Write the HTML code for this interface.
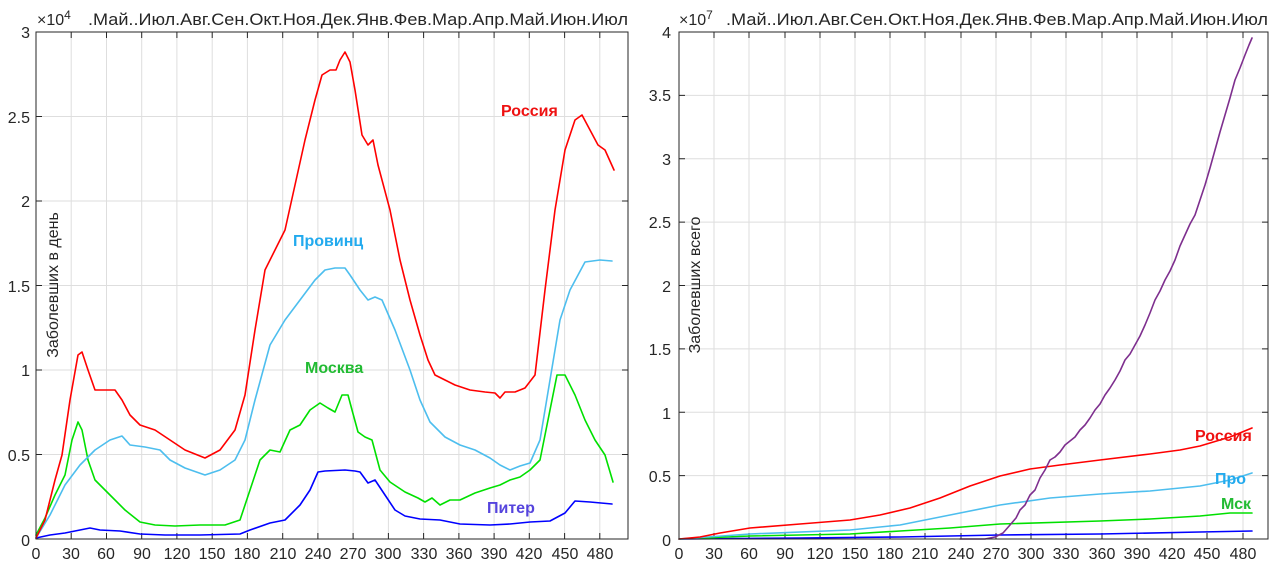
<!DOCTYPE html>
<html><head><meta charset="utf-8"><style>
html,body{margin:0;padding:0;background:#fff;}
svg{display:block;font-family:"Liberation Sans",Arial,sans-serif;}
</style></head><body>
<svg width="1279" height="580" viewBox="0 0 1279 580" xmlns="http://www.w3.org/2000/svg">
<g id="L">
<g stroke="#dedede" stroke-width="1">
<line x1="71.2" y1="32" x2="71.2" y2="539"/><line x1="106.5" y1="32" x2="106.5" y2="539"/><line x1="141.7" y1="32" x2="141.7" y2="539"/><line x1="176.9" y1="32" x2="176.9" y2="539"/><line x1="212.2" y1="32" x2="212.2" y2="539"/><line x1="247.4" y1="32" x2="247.4" y2="539"/><line x1="282.7" y1="32" x2="282.7" y2="539"/><line x1="317.9" y1="32" x2="317.9" y2="539"/><line x1="353.1" y1="32" x2="353.1" y2="539"/><line x1="388.4" y1="32" x2="388.4" y2="539"/><line x1="423.6" y1="32" x2="423.6" y2="539"/><line x1="458.9" y1="32" x2="458.9" y2="539"/><line x1="494.1" y1="32" x2="494.1" y2="539"/><line x1="529.3" y1="32" x2="529.3" y2="539"/><line x1="564.6" y1="32" x2="564.6" y2="539"/><line x1="599.8" y1="32" x2="599.8" y2="539"/>
<line x1="36" y1="454.5" x2="628" y2="454.5"/><line x1="36" y1="370" x2="628" y2="370"/><line x1="36" y1="285.5" x2="628" y2="285.5"/><line x1="36" y1="201" x2="628" y2="201"/><line x1="36" y1="116.5" x2="628" y2="116.5"/>
</g>
<g stroke="#262626" stroke-width="1">
<path d="M71.2 539v-6M106.5 539v-6M141.7 539v-6M176.9 539v-6M212.2 539v-6M247.4 539v-6M282.7 539v-6M317.9 539v-6M353.1 539v-6M388.4 539v-6M423.6 539v-6M458.9 539v-6M494.1 539v-6M529.3 539v-6M564.6 539v-6M599.8 539v-6"/>
<path d="M71.2 32v6M106.5 32v6M141.7 32v6M176.9 32v6M212.2 32v6M247.4 32v6M282.7 32v6M317.9 32v6M353.1 32v6M388.4 32v6M423.6 32v6M458.9 32v6M494.1 32v6M529.3 32v6M564.6 32v6M599.8 32v6"/>
<path d="M36 454.5h6M36 370h6M36 285.5h6M36 201h6M36 116.5h6M628 454.5h-6M628 370h-6M628 285.5h-6M628 201h-6M628 116.5h-6"/>
</g>
<g fill="none" stroke-width="1.6" stroke-linejoin="round" stroke-linecap="round">
<polyline stroke="#0000ff" points="36,538 50,535 65,533 80,530 90,528 100,530 120,531 140,534 165,535 200,535 240,534 250,530 270,523 285,520 300,505 310,490 318,472 325,471 345,470 355,471 360,472 368,483 375,480 385,495 395,510 405,516 420,519 440,520 460,524 490,525 510,524 530,522 550,521 565,513 575,501 590,502 612,504"/>
<polyline stroke="#00e000" points="36,535 45,518 55,495 65,475 72,440 78,422 82,430 88,460 95,480 110,495 125,510 140,522 155,525 175,526 200,525 225,525 240,520 250,490 260,460 270,450 280,452 290,430 300,425 310,410 320,403 328,408 335,412 342,395 348,395 352,410 358,432 365,437 372,440 380,470 390,482 405,492 418,498 425,502 432,498 440,505 450,500 460,500 475,493 490,488 500,485 510,480 520,477 530,470 540,460 550,410 557,375 565,375 575,395 585,420 595,440 605,455 613,482"/>
<polyline stroke="#4dbeee" points="36,538 50,515 65,485 80,465 95,450 110,440 122,436 130,445 145,447 160,450 170,460 185,468 205,475 220,470 235,460 245,440 255,400 270,345 285,320 300,300 315,280 325,270 335,268 345,268 350,275 360,290 368,300 375,297 382,300 395,330 410,370 420,400 430,422 445,437 460,445 475,450 490,458 500,465 510,470 520,466 530,463 540,440 550,380 560,320 570,290 585,262 600,260 612,261"/>
<polyline stroke="#ff0000" points="36,538 45,520 55,480 62,455 70,400 78,355 82,352 88,370 95,390 105,390 115,390 122,400 130,415 140,425 155,430 170,440 185,450 205,458 220,450 235,430 245,395 255,330 265,270 275,250 285,230 295,185 305,140 315,100 322,75 330,70 336,70 340,60 345,52 350,62 355,90 362,135 368,145 373,140 378,165 390,210 400,260 410,300 420,335 428,360 435,375 445,380 455,385 470,390 485,392 495,393 500,398 505,392 515,392 525,388 535,375 545,290 555,210 565,150 575,120 582,115 590,130 598,145 605,150 614,170"/>
</g>
<rect x="36" y="32" width="592" height="507" fill="none" stroke="#262626" stroke-width="1"/>
<g font-size="16" fill="#262626" text-anchor="end">
<text x="30" y="546">0</text><text x="30" y="461">0.5</text><text x="30" y="376">1</text><text x="30" y="292">1.5</text><text x="30" y="207">2</text><text x="30" y="123">2.5</text><text x="30" y="38">3</text>
</g>
<g font-size="16" fill="#262626" text-anchor="middle">
<text x="36" y="559">0</text><text x="71" y="559">30</text><text x="106" y="559">60</text><text x="142" y="559">90</text><text x="177" y="559">120</text><text x="212" y="559">150</text><text x="247" y="559">180</text><text x="283" y="559">210</text><text x="318" y="559">240</text><text x="353" y="559">270</text><text x="388" y="559">300</text><text x="424" y="559">330</text><text x="459" y="559">360</text><text x="494" y="559">390</text><text x="529" y="559">420</text><text x="565" y="559">450</text><text x="600" y="559">480</text>
</g>
<text x="37" y="25" font-size="16" fill="#262626">×10<tspan font-size="12" dy="-6">4</tspan></text>
<text x="88" y="25" font-size="17" fill="#262626" textLength="540" lengthAdjust="spacingAndGlyphs">.Май..Июл.Авг.Сен.Окт.Ноя.Дек.Янв.Фев.Мар.Апр.Май.Июн.Июл</text>
<text transform="translate(58,285) rotate(-90)" font-size="16" fill="#262626" text-anchor="middle">Заболевших в день</text>
<g font-size="16" font-weight="bold">
<text x="501" y="116" fill="#ee1111">Россия</text>
<text x="293" y="246" fill="#22aaee">Провинц</text>
<text x="305" y="373" fill="#22bb33">Москва</text>
<text x="487" y="513" fill="#5544dd">Питер</text>
</g>
</g>

<g id="R">
<g stroke="#dedede" stroke-width="1">
<line x1="714" y1="32" x2="714" y2="539"/><line x1="749" y1="32" x2="749" y2="539"/><line x1="785" y1="32" x2="785" y2="539"/><line x1="820" y1="32" x2="820" y2="539"/><line x1="855" y1="32" x2="855" y2="539"/><line x1="890" y1="32" x2="890" y2="539"/><line x1="925" y1="32" x2="925" y2="539"/><line x1="961" y1="32" x2="961" y2="539"/><line x1="996" y1="32" x2="996" y2="539"/><line x1="1031" y1="32" x2="1031" y2="539"/><line x1="1066" y1="32" x2="1066" y2="539"/><line x1="1102" y1="32" x2="1102" y2="539"/><line x1="1137" y1="32" x2="1137" y2="539"/><line x1="1172" y1="32" x2="1172" y2="539"/><line x1="1207" y1="32" x2="1207" y2="539"/><line x1="1243" y1="32" x2="1243" y2="539"/>
<line x1="679" y1="475.6" x2="1268" y2="475.6"/><line x1="679" y1="412.3" x2="1268" y2="412.3"/><line x1="679" y1="348.9" x2="1268" y2="348.9"/><line x1="679" y1="285.5" x2="1268" y2="285.5"/><line x1="679" y1="222.1" x2="1268" y2="222.1"/><line x1="679" y1="158.8" x2="1268" y2="158.8"/><line x1="679" y1="95.4" x2="1268" y2="95.4"/>
</g>
<g stroke="#262626" stroke-width="1">
<path d="M714 539v-6M749 539v-6M785 539v-6M820 539v-6M855 539v-6M890 539v-6M925 539v-6M961 539v-6M996 539v-6M1031 539v-6M1066 539v-6M1102 539v-6M1137 539v-6M1172 539v-6M1207 539v-6M1243 539v-6"/>
<path d="M714 32v6M749 32v6M785 32v6M820 32v6M855 32v6M890 32v6M925 32v6M961 32v6M996 32v6M1031 32v6M1066 32v6M1102 32v6M1137 32v6M1172 32v6M1207 32v6M1243 32v6"/>
<path d="M679 475.6h6M679 412.3h6M679 348.9h6M679 285.5h6M679 222.1h6M679 158.8h6M679 95.4h6M1268 475.6h-6M1268 412.3h-6M1268 348.9h-6M1268 285.5h-6M1268 222.1h-6M1268 158.8h-6M1268 95.4h-6"/>
</g>
<g fill="none" stroke-width="1.6" stroke-linejoin="round" stroke-linecap="round">
<polyline stroke="#0000ff" points="679,539 800,538 900,537 1000,535 1100,534 1200,532 1252,531"/>
<polyline stroke="#00e000" points="679,539 750,536 850,534 900,531 950,528 1000,524 1100,521 1150,519 1200,516 1230,513 1252,513"/>
<polyline stroke="#4dbeee" points="679,539 750,534 850,530 900,525 950,515 1000,505 1050,498 1100,494 1150,491 1200,486 1230,480 1252,473"/>
<polyline stroke="#ff0000" points="679,539 700,537 720,533 750,528 800,524 850,520 880,515 910,508 940,498 970,486 1000,476 1030,469 1060,465 1100,460 1150,454 1180,450 1200,446 1230,437 1252,428"/>
<polyline stroke="#7e2f8e" points="960,539 985,539 995,537 1003,533 1010,525 1016,518 1020,510 1025,505 1030,495 1035,490 1040,478 1045,470 1050,460 1055,457 1060,452 1065,445 1070,441 1075,437 1080,430 1085,425 1090,418 1095,410 1100,404 1105,395 1110,388 1115,380 1120,371 1125,360 1130,354 1135,345 1140,336 1145,325 1150,313 1155,300 1160,291 1165,280 1170,271 1175,260 1180,246 1185,235 1190,224 1195,215 1200,200 1205,185 1210,168 1215,150 1220,132 1225,115 1230,98 1235,80 1240,68 1245,55 1249,45 1252,38"/>
</g>
<rect x="679" y="32" width="589" height="507" fill="none" stroke="#262626" stroke-width="1"/>
<g font-size="16" fill="#262626" text-anchor="end">
<text x="671" y="546">0</text><text x="671" y="482">0.5</text><text x="671" y="419">1</text><text x="671" y="355">1.5</text><text x="671" y="292">2</text><text x="671" y="228">2.5</text><text x="671" y="165">3</text><text x="671" y="101">3.5</text><text x="671" y="38">4</text>
</g>
<g font-size="16" fill="#262626" text-anchor="middle">
<text x="679" y="559">0</text><text x="714" y="559">30</text><text x="749" y="559">60</text><text x="785" y="559">90</text><text x="820" y="559">120</text><text x="855" y="559">150</text><text x="890" y="559">180</text><text x="925" y="559">210</text><text x="961" y="559">240</text><text x="996" y="559">270</text><text x="1031" y="559">300</text><text x="1066" y="559">330</text><text x="1102" y="559">360</text><text x="1137" y="559">390</text><text x="1172" y="559">420</text><text x="1207" y="559">450</text><text x="1243" y="559">480</text>
</g>
<text x="679" y="25" font-size="16" fill="#262626">×10<tspan font-size="12" dy="-6">7</tspan></text>
<text x="726" y="25" font-size="17" fill="#262626" textLength="542" lengthAdjust="spacingAndGlyphs">.Май..Июл.Авг.Сен.Окт.Ноя.Дек.Янв.Фев.Мар.Апр.Май.Июн.Июл</text>
<text transform="translate(700,285) rotate(-90)" font-size="16" fill="#262626" text-anchor="middle">Заболевших всего</text>
<g font-size="16" font-weight="bold">
<text x="1195" y="441" fill="#ee1111">Россия</text>
<text x="1215" y="484" fill="#22aaee">Про</text>
<text x="1221" y="509" fill="#22bb33">Мск</text>
</g>
</g>
</svg>
</body></html>
